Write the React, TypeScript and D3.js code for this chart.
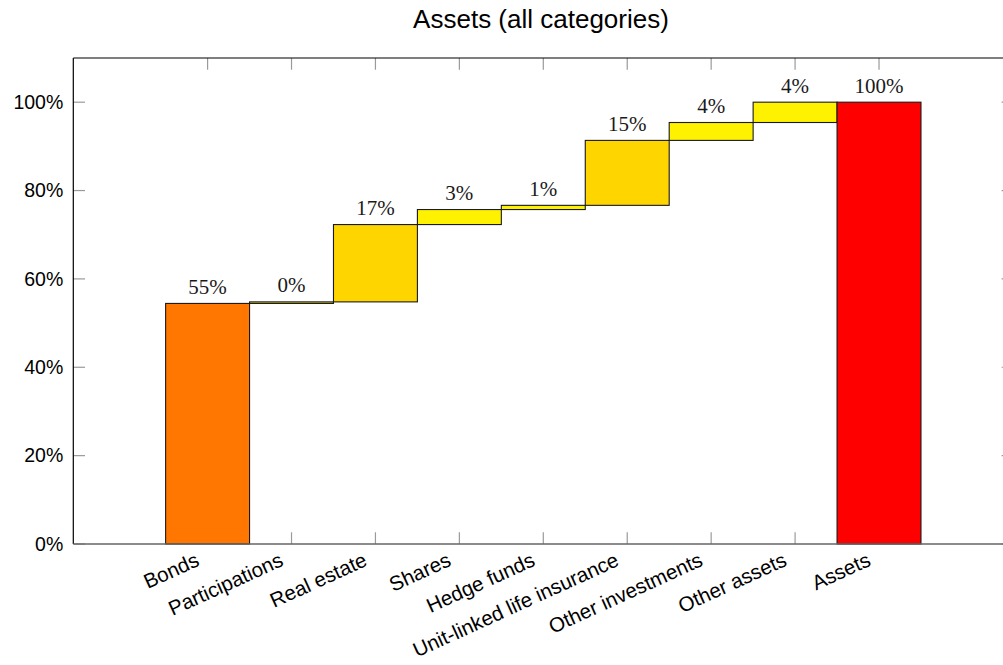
import React from "react";
import * as d3 from "d3";

const categories = [
  "Bonds",
  "Participations",
  "Real estate",
  "Shares",
  "Hedge funds",
  "Unit-linked life insurance",
  "Other investments",
  "Other assets",
  "Assets",
];
const values = [54.45, 0.35, 17.5, 3.4, 0.95, 14.7, 4.05, 4.6];
const valueLabels = ["55%", "0%", "17%", "3%", "1%", "15%", "4%", "4%", "100%"];
const barColors = [
  "#FF7700",
  "#FFF200",
  "#FFD500",
  "#FFF200",
  "#FFF200",
  "#FFD500",
  "#FFF200",
  "#FFF200",
  "#FF0000",
];
const yTicks = [0, 20, 40, 60, 80, 100];

const W = 1003;
const H = 665;
const SANS = "'Liberation Sans', Arial, Helvetica, sans-serif";
const SERIF = "'Liberation Serif', 'DejaVu Serif', serif";

export default function App() {
  const x = d3.scaleLinear().domain([-1.6, 9.6]).range([73.3, 1013.3]);
  const y = d3.scaleLinear().domain([0, 110]).range([544, 58]);

  // waterfall segments
  let cum = 0;
  const segs = values.map((v, i) => {
    const s = { i, lo: cum, hi: cum + v };
    cum += v;
    return s;
  });
  const total = d3.sum(values);
  segs.push({ i: values.length, lo: 0, hi: total });

  const idx = d3.range(categories.length);
  const tickLen = 11.7;
  const tickColor = "#9a9a9a";

  return (
    <svg
      width={W}
      height={H}
      style={{ position: "absolute", left: 0, top: 0, background: "#fff" }}
    >
      <rect x={0} y={0} width={W} height={H} fill="#fff" />
      <text
        x={541}
        y={27.7}
        textAnchor="middle"
        fontFamily={SANS}
        fontSize={26}
        fill="#000"
      >
        Assets (all categories)
      </text>

      {/* ticks */}
      <g stroke={tickColor} strokeWidth={1.2}>
        {idx.map((i) => (
          <line key={"tt" + i} x1={x(i)} x2={x(i)} y1={y(110)} y2={y(110) + tickLen} />
        ))}
        {idx.map((i) => (
          <line key={"bt" + i} x1={x(i)} x2={x(i)} y1={y(0)} y2={y(0) - tickLen} />
        ))}
        {yTicks.map((t) => (
          <line key={"lt" + t} x1={x(-1.6)} x2={x(-1.6) + tickLen} y1={y(t)} y2={y(t)} />
        ))}
        {yTicks.map((t) => (
          <line key={"rt" + t} x1={x(9.6)} x2={x(9.6) - tickLen} y1={y(t)} y2={y(t)} />
        ))}
      </g>

      {/* bars */}
      {segs.map((s) => (
        <rect
          key={"b" + s.i}
          x={x(s.i - 0.5)}
          y={y(s.hi)}
          width={x(s.i + 0.5) - x(s.i - 0.5)}
          height={Math.max(0.5, y(s.lo) - y(s.hi))}
          fill={barColors[s.i]}
          stroke="#1a1a1a"
          strokeWidth={1.1}
        />
      ))}

      {/* value labels */}
      {segs.map((s) => (
        <text
          key={"v" + s.i}
          x={x(s.i)}
          y={y(s.hi) - 9.5}
          textAnchor="middle"
          fontFamily={SERIF}
          fontSize={21}
          fill="#1a1a1a"
        >
          {valueLabels[s.i]}
        </text>
      ))}

      {/* axis frame */}
      <line x1={x(-1.6)} x2={x(9.6)} y1={y(110)} y2={y(110)} stroke="#000" strokeWidth={1.2} />
      <line x1={x(-1.6)} x2={x(-1.6)} y1={y(110)} y2={y(0)} stroke="#000" strokeWidth={1.2} />
      <line x1={x(9.6)} x2={x(9.6)} y1={y(110)} y2={y(0)} stroke="#000" strokeWidth={1.2} />
      <line x1={x(-1.6)} x2={x(9.6)} y1={y(0)} y2={y(0)} stroke="#666" strokeWidth={1.6} />

      {/* y tick labels */}
      {yTicks.map((t) => (
        <text
          key={"yl" + t}
          x={x(-1.6) - 10}
          y={y(t)}
          dy="0.35em"
          textAnchor="end"
          fontFamily={SANS}
          fontSize={19.5}
          fill="#000"
        >
          {t + "%"}
        </text>
      ))}

      {/* x tick labels */}
      {idx.map((i) => (
        <text
          key={"xl" + i}
          transform={`translate(${x(i) - 7},${y(0) + 21}) rotate(-24.5)`}
          textAnchor="end"
          fontFamily={SANS}
          fontSize={20.5}
          fill="#000"
        >
          {categories[i]}
        </text>
      ))}
    </svg>
  );
}
